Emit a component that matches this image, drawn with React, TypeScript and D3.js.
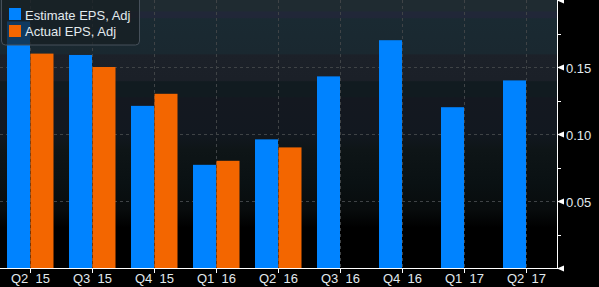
import React, { useEffect } from "react";
import * as d3 from "d3";

const categories = ["Q2 15", "Q3 15", "Q4 15", "Q1 16", "Q2 16", "Q3 16", "Q4 16", "Q1 17", "Q2 17"];
const estimateEPS = [0.184, 0.159, 0.121, 0.077, 0.096, 0.143, 0.17, 0.12, 0.14];
const actualEPS: (number | null)[] = [0.16, 0.15, 0.13, 0.08, 0.09, null, null, null, null];
const seriesNames = ["Estimate EPS, Adj", "Actual EPS, Adj"];
const majorTicks = [0.05, 0.1, 0.15, 0.2];
const labeledTicks = [0.05, 0.1, 0.15];
const minorTicks = [0.025, 0.075, 0.125, 0.175];

const W = 599;
const H = 287;
const plotRight = 557;
const plotBottom = 268;
const colors = ["#0083ff", "#f36600"];
const textColor = "#e2eaee";
const font = "'Liberation Sans', Arial, sans-serif";

const bgStops: [number, string][] = [
  [0, "#1f2b31"], [0.04, "#1f2b31"], [0.045, "#212738"], [0.065, "#212738"],
  [0.07, "#1a2a32"], [0.2, "#1a2830"], [0.205, "#1c2129"], [0.3, "#1b2028"],
  [0.305, "#111b20"], [0.36, "#111b20"], [0.365, "#141820"], [0.5, "#121820"],
  [0.56, "#0e1517"], [0.68, "#0a1113"], [0.78, "#080c0d"], [0.85, "#000000"], [1, "#000000"],
];

export default function App() {
  useEffect(() => {
    document.body.style.margin = "0";
    document.body.style.background = "#000";
  }, []);

  const x = d3.scaleBand<string>().domain(categories).range([-1, plotRight]).paddingInner(0.258).paddingOuter(0.129);
  const sub = d3.scaleBand<number>().domain([0, 1]).range([0, x.bandwidth()]);
  const y = d3.scaleLinear().domain([0, 0.2]).range([plotBottom, 0]);

  return (
    <svg width={W} height={H} style={{ display: "block", background: "#000" }} fontFamily={font}>
      <defs>
        <linearGradient id="bg" x1="0" y1="0" x2="0" y2="1">
          {bgStops.map(([o, c], i) => (
            <stop key={i} offset={o} stopColor={c} />
          ))}
        </linearGradient>
      </defs>
      <rect x={0} y={0} width={plotRight} height={plotBottom} fill="url(#bg)" />
      {/* grid */}
      {labeledTicks.map((t) => (
        <line key={"h" + t} x1={0} x2={plotRight} y1={Math.round(y(t)) + 0.5} y2={Math.round(y(t)) + 0.5}
          stroke="#3f4346" strokeDasharray="3,3" />
      ))}
      {categories.map((c) => {
        const cx = Math.round(x(c)! + x.bandwidth() / 2) + 0.5;
        return <line key={"v" + c} x1={cx} x2={cx} y1={0} y2={plotBottom} stroke="#3f4346" strokeDasharray="3,3" />;
      })}
      {/* bars */}
      {categories.map((c, i) => (
        <g key={"b" + c}>
          <rect x={x(c)! + sub(0)!} width={sub.bandwidth()} y={y(estimateEPS[i])} height={plotBottom - y(estimateEPS[i])} fill={colors[0]} />
          {actualEPS[i] != null && (
            <rect x={x(c)! + sub(1)! + 0.5} width={sub.bandwidth()} y={y(actualEPS[i] as number)}
              height={plotBottom - y(actualEPS[i] as number)} fill={colors[1]} />
          )}
        </g>
      ))}
      {/* axes */}
      <line x1={0} x2={plotRight + 1} y1={plotBottom + 0.5} y2={plotBottom + 0.5} stroke="#fff" />
      <line x1={plotRight + 0.5} x2={plotRight + 0.5} y1={0} y2={plotBottom + 1} stroke="#fff" />
      {categories.map((c) => {
        const cx = Math.round(x(c)! + x.bandwidth() / 2) + 0.5;
        return (
          <g key={"t" + c}>
            <line x1={cx} x2={cx} y1={plotBottom} y2={plotBottom + 5} stroke="#fff" />
            <text x={cx} y={283} textAnchor="middle" fontSize={13} fill={textColor} style={{ whiteSpace: "pre" }}>
              {c.replace(" ", "  ")}
            </text>
          </g>
        );
      })}
      {majorTicks.map((t) => {
        const ty = Math.round(y(t)) + 0.5;
        return (
          <path key={"a" + t} d={`M${plotRight},${ty} L${plotRight + 7},${ty - 3} L${plotRight + 7},${ty + 3} Z`} fill="#fff" />
        );
      })}
      {labeledTicks.map((t) => {
        const ty = Math.round(y(t)) + 0.5;
        return (
          <text key={"y" + t} x={plotRight + 9} y={ty + 5} fontSize={13} fill={textColor}>{t.toFixed(2)}</text>
        );
      })}
      <path d={`M${plotRight},${plotBottom + 0.5} L${plotRight + 7},${plotBottom - 2.5} L${plotRight + 7},${plotBottom + 3.5} Z`} fill="#fff" />
      {minorTicks.map((t) => {
        const ty = Math.round(y(t)) + 0.5;
        return <line key={"m" + t} x1={plotRight} x2={plotRight + 4} y1={ty} y2={ty} stroke="#fff" />;
      })}
      {/* legend */}
      <rect x={1.5} y={-4} width={138} height={49} rx={4} fill="rgba(22,30,34,0.72)" stroke="#46505a" />
      {seriesNames.map((n, i) => (
        <g key={"l" + n}>
          <rect x={9} y={8 + i * 17} width={12} height={12} fill={colors[i]} />
          <text x={25} y={20 + i * 15.5} fontSize={13} fill={textColor}>{n}</text>
        </g>
      ))}
    </svg>
  );
}
